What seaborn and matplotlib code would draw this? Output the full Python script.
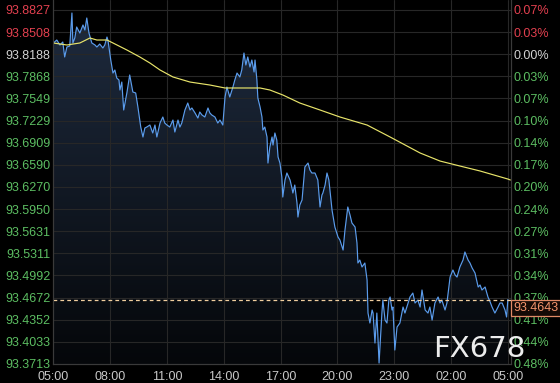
import numpy as np
import pandas as pd
import matplotlib
matplotlib.use("Agg")
import matplotlib.pyplot as plt
import matplotlib.transforms as mtransforms
from matplotlib.colors import LinearSegmentedColormap
import seaborn as sns

# ---------------- data ----------------
price_minutes = [0, 11, 21, 30, 36, 43, 52, 59, 62, 68, 74, 84, 94, 100, 106, 113, 122, 132, 138, 147,
                 157, 163, 170, 173, 182, 189, 195, 201, 208, 211, 217, 223, 233, 242, 252, 261, 268, 277,
                 284, 290, 296, 306, 315, 322, 328, 338, 347, 353, 360, 369, 379, 385, 395, 401, 407, 417,
                 426, 433, 439, 449, 458, 464, 471, 480, 490, 496, 502, 512, 521, 528, 537, 544, 550, 559,
                 569, 575, 582, 591, 597, 604, 610, 616, 623, 629, 636, 639, 645, 648, 655, 661, 664, 670,
                 677, 680, 686, 693, 696, 702, 708, 712, 718, 724, 727, 734, 740, 750, 756, 759, 765, 772,
                 775, 781, 788, 797, 807, 813, 819, 829, 838, 845, 851, 854, 861, 867, 873, 883, 892, 902,
                 908, 918, 924, 933, 940, 946, 956, 962, 965, 971, 978, 987, 994, 997, 1003, 1010, 1013,
                 1019, 1025, 1032, 1038, 1041, 1044, 1051, 1057, 1063, 1067, 1073, 1076, 1082, 1089, 1098,
                 1108, 1114, 1120, 1130, 1139, 1146, 1155, 1162, 1168, 1178, 1187, 1193, 1200, 1209, 1219,
                 1225, 1231, 1241, 1247, 1257, 1266, 1273, 1279, 1288, 1298, 1304, 1314, 1320, 1327, 1336,
                 1346, 1352, 1358, 1368, 1377, 1384, 1390, 1399, 1409, 1415, 1422, 1431, 1436, 1440]
price_values = [93.8350, 93.8393, 93.8321, 93.8364, 93.8148, 93.8292, 93.8307, 93.8783, 93.8350, 93.8422,
                93.8581, 93.8494, 93.8610, 93.8538, 93.8711, 93.8494, 93.8350, 93.8321, 93.8292, 93.8335,
                93.8278, 93.8321, 93.8436, 93.8393, 93.8104, 93.7916, 93.7960, 93.7844, 93.7815, 93.7671,
                93.7786, 93.7382, 93.7628, 93.7888, 93.7642, 93.7628, 93.7425, 93.7136, 93.6992, 93.7122,
                93.7136, 93.7165, 93.7050, 93.7165, 93.6992, 93.7194, 93.7281, 93.7194, 93.7165, 93.7136,
                93.7237, 93.7064, 93.7237, 93.7136, 93.7194, 93.7382, 93.7483, 93.7382, 93.7411, 93.7339,
                93.7266, 93.7353, 93.7310, 93.7281, 93.7411, 93.7339, 93.7310, 93.7281, 93.7194, 93.7237,
                93.7165, 93.7570, 93.7714, 93.7570, 93.7714, 93.7815, 93.7916, 93.7859, 93.7960, 93.8205,
                93.8032, 93.8148, 93.8003, 93.8104, 93.7931, 93.8104, 93.7815, 93.7555, 93.7425, 93.7281,
                93.7093, 93.7136, 93.6992, 93.6616, 93.6847, 93.6992, 93.6876, 93.7050, 93.6949, 93.6703,
                93.6616, 93.6414, 93.6125, 93.6371, 93.6472, 93.6371, 93.6255, 93.6183, 93.6298, 93.6038,
                93.5836, 93.6010, 93.6082, 93.6559, 93.6616, 93.6515, 93.6472, 93.6472, 93.6371, 93.5981,
                93.6154, 93.6183, 93.6298, 93.6472, 93.6371, 93.5937, 93.5692, 93.5547, 93.5504, 93.5359,
                93.5648, 93.5981, 93.5865, 93.5750, 93.5692, 93.5461, 93.5172, 93.5215, 93.5114, 93.5172,
                93.4926, 93.4449, 93.4305, 93.4493, 93.4449, 93.4016, 93.4449, 93.3727, 93.4204, 93.4449,
                93.4637, 93.4348, 93.4305, 93.4637, 93.4681, 93.4493, 93.4536, 93.3915, 93.4247, 93.4305,
                93.4536, 93.4449, 93.4536, 93.4681, 93.4738, 93.4594, 93.4637, 93.4536, 93.4782, 93.4493,
                93.4449, 93.4536, 93.4348, 93.4594, 93.4681, 93.4594, 93.4637, 93.4493, 93.4594, 93.4969,
                93.5071, 93.4998, 93.4969, 93.5114, 93.5215, 93.5331, 93.5215, 93.5172, 93.5099, 93.5027,
                93.4825, 93.4854, 93.4782, 93.4825, 93.4681, 93.4608, 93.4536, 93.4449, 93.4536, 93.4594,
                93.4594, 93.4493, 93.4392, 93.4643]

ma_minutes = [0, 43, 84, 116, 138, 170, 189, 233, 274, 306, 338, 379, 433, 496, 544, 591, 655, 686, 727,
              781, 845, 908, 994, 1067, 1162, 1225, 1288, 1352, 1440, 1448]
ma_values = [93.8350, 93.8321, 93.8350, 93.8422, 93.8393, 93.8393, 93.8350, 93.8249, 93.8148, 93.8061,
             93.7960, 93.7859, 93.7786, 93.7743, 93.7700, 93.7700, 93.7700, 93.7671, 93.7599, 93.7483,
             93.7382, 93.7281, 93.7165, 93.6992, 93.6761, 93.6645, 93.6573, 93.6501, 93.6385, 93.6371]

y_ticks = [93.8827, 93.8508, 93.8188, 93.7868, 93.7549, 93.7229, 93.6909, 93.6590, 93.6270,
           93.5950, 93.5631, 93.5311, 93.4992, 93.4672, 93.4352, 93.4033, 93.3713]
y_labels = ["93.8827", "93.8508", "93.8188", "93.7868", "93.7549", "93.7229", "93.6909", "93.6590",
            "93.6270", "93.5950", "93.5631", "93.5311", "93.4992", "93.4672", "93.4352", "93.4033", "93.3713"]
pct_labels = ["0.07%", "0.03%", "0.00%", "0.03%", "0.07%", "0.10%", "0.14%", "0.17%", "0.20%",
              "0.24%", "0.27%", "0.31%", "0.34%", "0.37%", "0.41%", "0.44%", "0.48%"]
x_tick_minutes = [0, 180, 360, 540, 720, 900, 1080, 1260, 1440]
x_tick_labels = ["05:00", "08:00", "11:00", "14:00", "17:00", "20:00", "23:00", "02:00", "05:00"]
prev_close = 93.8188
last_price = 93.4643

# ---------------- styling ----------------
sns.set_theme(style="dark", rc={"axes.facecolor": "black", "figure.facecolor": "black"})
plt.rcParams['font.family'] = ['Liberation Sans', 'DejaVu Sans']

RED, WHITE, GREEN = "#e2404f", "#d2d2d2", "#5cbd62"

fig = plt.figure(figsize=(5.6, 3.83), dpi=100, facecolor="black")
ax = fig.add_axes([53 / 560, 19 / 383, 458 / 560, 364 / 383])
ax.set_facecolor("black")

ymin, ymax = 93.3713, 93.8971
xmin, xmax = -1, 1450

df = pd.DataFrame({"minute": price_minutes, "price": price_values})
dfm = pd.DataFrame({"minute": ma_minutes, "ma": ma_values})

# gradient area under the price line
poly = ax.fill_between(df["minute"], df["price"], ymin, color="none", lw=0)
grad = np.linspace(1, 0, 256).reshape(-1, 1)
cmap = LinearSegmentedColormap.from_list("g", ["#05070a", "#1f2c40"])
im = ax.imshow(grad, cmap=cmap, aspect="auto", extent=[xmin, xmax, ymin, ymax],
               origin="upper", zorder=1, interpolation="bilinear")
im.set_clip_path(poly.get_paths()[0], transform=ax.transData)

sns.lineplot(data=df, x="minute", y="price", color="#5b9cec", lw=0.85, ax=ax,
             estimator=None, sort=False, zorder=3)
sns.lineplot(data=dfm, x="minute", y="ma", color="#e8e46a", lw=0.85, ax=ax,
             estimator=None, sort=False, zorder=3)

ax.axhline(last_price, color="#f2cf9f", lw=0.9, ls=(0, (3, 2.5)), zorder=4)

ax.set_xlim(xmin, xmax)
ax.set_ylim(ymin, ymax)
ax.set_xlabel("")
ax.set_ylabel("")
ax.set_xticks(x_tick_minutes, x_tick_labels)
ax.set_yticks(y_ticks, y_labels)
ax.set_axisbelow("line")
ax.grid(True, color="#272727", lw=0.8)
ax.tick_params(axis="both", length=0, labelsize=9)
ax.tick_params(axis="x", pad=5, colors="#c8c8c8")
ax.tick_params(axis="y", pad=2)


def label_color(v):
    if abs(v - prev_close) < 1e-6:
        return WHITE
    return RED if v > prev_close else GREEN


for lab, v in zip(ax.get_yticklabels(), y_ticks):
    lab.set_color(label_color(v))

ax2 = ax.twinx()
ax2.set_ylim(ymin, ymax)
ax2.set_yticks(y_ticks, pct_labels)
ax2.grid(False)
ax2.tick_params(axis="y", length=0, labelsize=9, pad=1.5)
for lab, v in zip(ax2.get_yticklabels(), y_ticks):
    lab.set_color(label_color(v))

for a in (ax, ax2):
    for s in a.spines.values():
        s.set_color("#3a3a3a")
        s.set_linewidth(0.8)
    a.spines["top"].set_visible(False)

# current price box
trans = mtransforms.blended_transform_factory(ax.transAxes, ax.transData)
ax2.annotate(f"{last_price:.4f}", xy=(1.0, last_price), xycoords=trans,
             xytext=(1.8, -1.8), textcoords="offset points", ha="left", va="top",
             fontsize=9, color="#f4946c", annotation_clip=False, zorder=10,
             bbox=dict(boxstyle="square,pad=0.18", fc="#140a06", ec="#e08a66", lw=0.9))

# watermark
fig.text(433 / 560, 26 / 383, "FX678", fontsize=21, color="#ececec",
         family="DejaVu Sans", ha="left", va="baseline", zorder=20)

fig.savefig("out.png", dpi=100, facecolor="black")
